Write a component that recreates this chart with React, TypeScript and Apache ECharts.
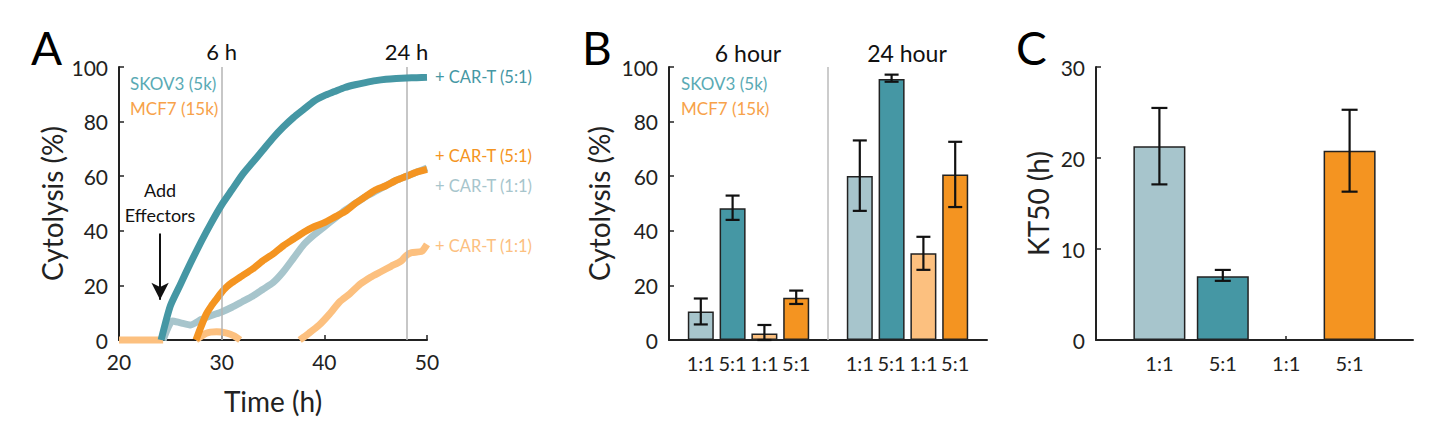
import React, { useEffect, useRef } from "react";
import * as echarts from "echarts";

const FONT = "Lato";
const INK = "#222";
const TEAL = "#4597a4";
const LBLUE = "#a7c5cc";
const ORANGE = "#f49421";
const LORANGE = "#fcc07f";
const TEAL_TXT = "#5aaab4";
const ORANGE_TXT = "#f7a24a";

// ---------- Panel A: cytolysis time courses ----------
const skov3_51: [number, number][] = [
  [24.1, 0], [25, 12.5], [26, 20.5], [27, 28.5], [28, 36], [29, 43], [30, 49.5], [31, 55], [32, 60.5],
  [33, 65], [34, 69.5], [35, 74], [36, 78], [37, 81.5], [38, 84.5], [39, 87.5], [40, 89.5],
  [41, 91], [42, 92.5], [43, 93.5], [44, 94.3], [45, 95], [46, 95.5], [47, 95.8], [48, 96], [49, 96.1], [50, 96.2],
];
const skov3_11: [number, number][] = [
  [24.3, 0], [25.2, 7], [26, 6.3], [27, 5.5], [28, 7.5], [29, 9], [30, 10.3], [31, 12], [32, 14],
  [33, 16], [34, 18.5], [35, 21], [36, 25], [37, 30], [38, 35], [39, 38.5], [40, 41.5], [41, 44.5],
  [42, 47.5], [43, 50], [44, 52.5], [45, 54.5], [46, 56.5], [47, 58.5], [48, 60], [49, 61.5], [50, 63],
];
const mcf7_51: [number, number][] = [
  [27.5, 0], [28, 5], [28.5, 9.5], [29, 12.5], [29.5, 15], [30, 17.5], [30.5, 19.5], [31, 21], [32, 23.5],
  [33, 26], [34, 29], [35, 31.5], [36, 34.5], [37, 37], [38, 39.5], [39, 41.5], [40, 43], [41, 45],
  [42, 47], [43, 50], [44, 52.5], [45, 55], [46, 56.5], [47, 58.5], [48, 60], [49, 61.5], [50, 62.5],
];
const mcf7_11: [number, number | null][] = [
  [20, 0], [24.3, 0], [25, null],
  [27.5, 0], [28.5, 2.5], [29.5, 3], [30.5, 2.5], [31.2, 1.5], [31.8, 0], [33, null],
  [37.6, 0], [38.5, 2.5], [39.5, 5.5], [40.5, 9.5], [41.5, 14], [42.5, 17], [43.5, 20.5], [44.5, 23],
  [45.5, 25], [46.5, 27], [47.5, 29], [48, 31], [48.5, 32], [49.5, 32.5], [50, 35],
];
const endLabels = ["+ CAR-T (5:1)", "+ CAR-T (1:1)", "+ CAR-T (5:1)", "+ CAR-T (1:1)"];
const markTimes = [30, 48];
const markTimeLabels = ["6 h", "24 h"];
const effectorTime = 24;
const effectorFrom = 39;
const effectorTo = 14.7;

// ---------- Panel B: cytolysis at 6 h / 24 h ----------
const barPosB = [1, 2, 3, 4, 6, 7, 8, 9];
const barLabelsB = ["1:1", "5:1", "1:1", "5:1", "1:1", "5:1", "1:1", "5:1"];
const barValsB = [10.4, 48.3, 2.4, 15.5, 60.1, 95.6, 31.8, 60.6];
const errLowB = [5.7, 44, 0, 13.2, 47.3, 94.6, 25.7, 48.7];
const errHighB = [15.2, 52.9, 5.5, 18.1, 73.1, 97.2, 37.8, 72.6];
const barColorsB = [LBLUE, TEAL, LORANGE, ORANGE, LBLUE, TEAL, LORANGE, ORANGE];
const groupDividerB = 5;
const groupTitlesB = ["6 hour", "24 hour"];

// ---------- Panel C: KT50 ----------
const barPosC = [1, 2, 3, 4];
const barLabelsC = ["1:1", "5:1", "1:1", "5:1"];
const barValsC: (number | null)[] = [21.3, 7.0, null, 20.8];
const errLowC: (number | null)[] = [17.1, 6.5, null, 16.3];
const errHighC: (number | null)[] = [25.5, 7.7, null, 25.3];
const barColorsC = [LBLUE, TEAL, LORANGE, ORANGE];

const errorRender = (cap: number) => (params: any, api: any) => {
  const x = api.value(0);
  const lo = api.coord([x, api.value(1)]);
  const hi = api.coord([x, api.value(2)]);
  const st = { stroke: "#111", lineWidth: 2.2 };
  return {
    type: "group",
    children: [
      { type: "line", shape: { x1: lo[0], y1: lo[1], x2: hi[0], y2: hi[1] }, style: st },
      { type: "line", shape: { x1: lo[0] - cap, y1: lo[1], x2: lo[0] + cap, y2: lo[1] }, style: st },
      { type: "line", shape: { x1: hi[0] - cap, y1: hi[1], x2: hi[0] + cap, y2: hi[1] }, style: st },
    ],
  };
};

const axisLineStyle = { lineStyle: { color: INK, width: 2 } };
const tickStyle = { inside: true, length: 5, lineStyle: { color: INK, width: 1.5 } };
const labelStyle = { color: INK, fontSize: 21, fontFamily: FONT };
const nameStyle = { color: INK, fontSize: 28, fontFamily: FONT };

export default function App() {
  const ref = useRef<HTMLDivElement>(null);
  useEffect(() => {
    if (!ref.current) return;
    const chart = echarts.init(ref.current, undefined, { renderer: "svg" });

    const lineSeries = (
      data: any[], color: string, label: string, offset: [number, number], z: number, extra: any = {}
    ) => ({
      type: "line",
      xAxisIndex: 0,
      yAxisIndex: 0,
      data,
      symbol: "none",
      showSymbol: false,
      clip: false,
      smooth: 0.2,
      connectNulls: false,
      z,
      lineStyle: { color, width: 7, cap: "butt", join: "round" },
      itemStyle: { color },
      endLabel: {
        show: true,
        formatter: label,
        color,
        fontSize: 16.5,
        fontFamily: FONT,
        distance: 8,
        offset,
      },
      ...extra,
    });

    const option: any = {
      animation: false,
      textStyle: { fontFamily: FONT },
      grid: [
        { left: 119, top: 67, width: 308, height: 273 },
        { left: 669, top: 67, width: 318, height: 273 },
        { left: 1096, top: 67, width: 317, height: 273 },
      ],
      xAxis: [
        {
          gridIndex: 0, type: "value", min: 20, max: 50, interval: 10,
          axisLine: axisLineStyle, axisTick: tickStyle, axisLabel: { ...labelStyle, margin: 11 },
          splitLine: { show: false },
          name: "Time (h)", nameLocation: "middle", nameGap: 47, nameTextStyle: nameStyle,
        },
        {
          gridIndex: 1, type: "value", min: 0, max: 10,
          axisLine: axisLineStyle,
          axisTick: { ...tickStyle, length: 4, customValues: barPosB },
          axisLabel: {
            ...labelStyle, fontSize: 20, margin: 13, customValues: barPosB,
            formatter: (v: number) => barLabelsB[barPosB.indexOf(v)] ?? "",
          },
          splitLine: { show: false },
        },
        {
          gridIndex: 2, type: "value", min: 0, max: 5,
          axisLine: axisLineStyle,
          axisTick: { ...tickStyle, length: 4, customValues: barPosC },
          axisLabel: {
            ...labelStyle, fontSize: 20, margin: 13, customValues: barPosC,
            formatter: (v: number) => barLabelsC[barPosC.indexOf(v)] ?? "",
          },
          splitLine: { show: false },
        },
      ],
      yAxis: [
        {
          gridIndex: 0, type: "value", min: 0, max: 100, interval: 20,
          axisLine: { show: true, ...axisLineStyle }, axisTick: { show: true, ...tickStyle },
          axisLabel: { ...labelStyle, margin: 11 }, splitLine: { show: false },
          name: "Cytolysis (%)", nameLocation: "middle", nameGap: 53, nameTextStyle: nameStyle,
        },
        {
          gridIndex: 1, type: "value", min: 0, max: 100, interval: 20,
          axisLine: { show: true, ...axisLineStyle }, axisTick: { show: true, ...tickStyle },
          axisLabel: { ...labelStyle, margin: 11 }, splitLine: { show: false },
          name: "Cytolysis (%)", nameLocation: "middle", nameGap: 56, nameTextStyle: nameStyle,
        },
        {
          gridIndex: 2, type: "value", min: 0, max: 30, interval: 10,
          axisLine: { show: true, ...axisLineStyle }, axisTick: { show: true, ...tickStyle },
          axisLabel: { ...labelStyle, margin: 11 }, splitLine: { show: false },
          name: "KT50 (h)", nameLocation: "middle", nameGap: 44, nameTextStyle: nameStyle,
        },
      ],
      series: [
        lineSeries(mcf7_11, LORANGE, endLabels[3], [0, 2], 2, {
          markLine: {
            silent: true,
            symbol: "none",
            lineStyle: { color: "#b5b5b5", width: 1.5, type: "solid" },
            label: { show: true, position: "end", color: "#111", fontSize: 22, fontFamily: FONT, distance: 5 },
            data: markTimes.map((t, i) => ({ xAxis: t, label: { formatter: markTimeLabels[i] } })),
          },
        }),
        lineSeries(skov3_11, LBLUE, endLabels[1], [0, 18], 3, {
          markLine: {
            silent: true,
            symbol: ["none", "arrow"],
            symbolSize: [13, 17],
            lineStyle: { color: "#111", width: 2, type: "solid" },
            label: {
              show: true, position: "start", formatter: "Add\nEffectors", color: "#111",
              fontSize: 18, lineHeight: 25, fontFamily: FONT, distance: 6,
            },
            data: [[{ coord: [effectorTime, effectorFrom] }, { coord: [effectorTime, effectorTo] }]],
          },
        }),
        lineSeries(mcf7_51, ORANGE, endLabels[2], [0, -13], 4),
        lineSeries(skov3_51, TEAL, endLabels[0], [0, 0], 5),
        {
          type: "bar", xAxisIndex: 1, yAxisIndex: 1, barWidth: 26,
          data: barPosB.map((x, i) => ({ value: [x, barValsB[i]], itemStyle: { color: barColorsB[i] } })),
          itemStyle: { borderColor: INK, borderWidth: 1.5 },
          markLine: {
            silent: true, symbol: "none", label: { show: false },
            lineStyle: { color: "#bbb", width: 1.5, type: "solid" },
            data: [{ xAxis: groupDividerB }],
          },
        },
        {
          type: "custom", xAxisIndex: 1, yAxisIndex: 1, z: 5,
          data: barPosB.map((x, i) => [x, errLowB[i], errHighB[i]]),
          encode: { x: 0, y: [1, 2] },
          renderItem: errorRender(7),
        },
        {
          type: "bar", xAxisIndex: 2, yAxisIndex: 2, barWidth: 52,
          data: barPosC
            .map((x, i) => ({ value: [x, barValsC[i]], itemStyle: { color: barColorsC[i] } }))
            .filter((d) => d.value[1] !== null),
          itemStyle: { borderColor: INK, borderWidth: 1.5 },
        },
        {
          type: "custom", xAxisIndex: 2, yAxisIndex: 2, z: 5,
          data: barPosC.map((x, i) => [x, errLowC[i], errHighC[i]]).filter((d) => d[1] !== null),
          encode: { x: 0, y: [1, 2] },
          renderItem: errorRender(8),
        },
      ],
      graphic: [
        { type: "text", style: { x: 31, y: 47, text: "A", fontSize: 46, fontFamily: FONT, fill: "#000", verticalAlign: "middle" } },
        { type: "text", style: { x: 582, y: 47, text: "B", fontSize: 46, fontFamily: FONT, fill: "#000", verticalAlign: "middle" } },
        { type: "text", style: { x: 1016, y: 47, text: "C", fontSize: 46, fontFamily: FONT, fill: "#000", verticalAlign: "middle" } },
        { type: "text", style: { x: 130, y: 83, text: "SKOV3 (5k)", fontSize: 17, fontFamily: FONT, fill: TEAL_TXT, verticalAlign: "middle" } },
        { type: "text", style: { x: 130, y: 108, text: "MCF7 (15k)", fontSize: 17, fontFamily: FONT, fill: ORANGE_TXT, verticalAlign: "middle" } },
        { type: "text", style: { x: 681, y: 83, text: "SKOV3 (5k)", fontSize: 17, fontFamily: FONT, fill: TEAL_TXT, verticalAlign: "middle" } },
        { type: "text", style: { x: 681, y: 108, text: "MCF7 (15k)", fontSize: 17, fontFamily: FONT, fill: ORANGE_TXT, verticalAlign: "middle" } },
        { type: "text", style: { x: 748, y: 53, text: groupTitlesB[0], fontSize: 23, fontFamily: FONT, fill: "#111", align: "center", verticalAlign: "middle" } },
        { type: "text", style: { x: 907, y: 53, text: groupTitlesB[1], fontSize: 23, fontFamily: FONT, fill: "#111", align: "center", verticalAlign: "middle" } },
      ],
    };
    chart.setOption(option);
    return () => chart.dispose();
  }, []);
  return <div ref={ref} style={{ position: "absolute", left: 0, top: 0, width: 1445, height: 443, background: "#fff" }} />;
}
